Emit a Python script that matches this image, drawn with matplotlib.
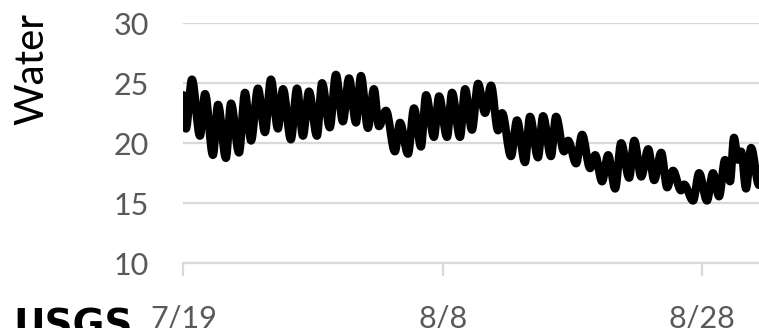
import matplotlib.pyplot as plt
from matplotlib.path import Path
from matplotlib.patches import PathPatch

# days since 7/19 of each daily low / high
days = [0.0, 0.20, 0.66, 1.28, 1.67, 2.28, 2.67, 3.28, 3.67, 4.29,
        4.75, 5.22, 5.75, 6.29, 6.75, 7.29, 7.68, 8.29, 8.76, 9.22,
        9.68, 10.30, 10.69, 11.29, 11.76, 12.30, 12.77, 13.31, 13.69, 14.23,
        14.69, 15.08, 15.62, 16.31, 16.70, 17.32, 17.78, 18.32, 18.71, 19.32,
        19.71, 20.33, 20.71, 21.33, 21.72, 22.25, 22.72, 23.26, 23.72, 24.26,
        24.57, 25.26, 25.72, 26.34, 26.72, 27.34, 27.73, 28.34, 28.73, 29.35,
        29.66, 30.28, 30.74, 31.36, 31.75, 32.28, 32.75, 33.29, 33.75, 34.37,
        34.76, 35.30, 35.84, 36.30, 36.84, 37.30, 37.75, 38.37, 38.60, 39.30,
        39.76, 40.37, 40.83, 41.30, 41.76, 42.15, 42.45, 42.76, 43.00, 43.38,
        43.77, 44.38]
temps = [24.0, 21.2, 25.3, 20.6, 24.1, 19.0, 23.2, 18.75, 23.3, 19.2,
         24.2, 20.2, 24.55, 20.9, 25.3, 21.2, 24.5, 20.3, 24.55, 20.6,
         24.3, 20.6, 25.0, 21.3, 25.7, 21.8, 25.4, 21.7, 25.6, 21.25,
         24.5, 21.4, 22.7, 19.3, 21.7, 19.1, 22.9, 19.7, 24.0, 20.5,
         23.9, 20.5, 24.2, 20.5, 24.5, 21.1, 24.95, 22.5, 24.8, 21.05,
         22.5, 18.9, 21.9, 18.4, 22.2, 18.8, 22.25, 18.9, 22.2, 19.3,
         20.2, 18.3, 20.7, 17.9, 19.0, 16.8, 19.0, 16.2, 20.0, 17.1,
         20.2, 17.2, 19.5, 16.9, 19.2, 16.3, 17.7, 16.05, 16.55, 15.2,
         17.5, 15.2, 17.5, 15.55, 18.6, 16.8, 20.45, 18.6, 19.3, 16.2,
         19.6, 16.5]

tick_days = [0, 20, 40]
tick_labels = ['7/19', '8/8', '8/28']
y_ticks = [10, 15, 20, 25, 30]

fig = plt.figure(figsize=(7.59, 3.28), dpi=100)
ax = fig.add_axes([0.2416, 0.198, 0.7584, 0.7317])

# smooth curve through the extrema (flat tangent at each low/high)
k = 0.364
verts = [(days[0], temps[0])]
codes = [Path.MOVETO]
for i in range(1, len(days)):
    x0, y0 = days[i - 1], temps[i - 1]
    x1, y1 = days[i], temps[i]
    dx = x1 - x0
    verts += [(x0 + k * dx, y0), (x1 - k * dx, y1), (x1, y1)]
    codes += [Path.CURVE4, Path.CURVE4, Path.CURVE4]
patch = PathPatch(Path(verts, codes), facecolor='none', edgecolor='black',
                  lw=5.8, capstyle='round', joinstyle='round', zorder=3)
ax.add_patch(patch)

ax.set_xlim(0, 44.38)
ax.set_ylim(10, 30)
ax.set_yticks(y_ticks)
ax.set_xticks(tick_days)
ax.set_xticklabels(tick_labels)
ax.grid(axis='y', color='#d9d9d9', lw=1.6, zorder=0)
ax.set_axisbelow(True)
for s in ['top', 'right', 'left']:
    ax.spines[s].set_visible(False)
ax.spines['bottom'].set_color('#d9d9d9')
ax.spines['bottom'].set_linewidth(1.6)
ax.tick_params(axis='y', length=0, pad=25, labelsize=22, labelcolor='#595959')
ax.tick_params(axis='x', length=9, width=1.6, color='#d9d9d9', pad=21,
               labelsize=22, labelcolor='#595959')
for lab in ax.get_xticklabels() + ax.get_yticklabels():
    lab.set_family('Lato')

fig.text(0.042, 0.62, 'Water', rotation=90, fontsize=29, family='Lato',
         ha='center', va='bottom', color='black')
fig.text(0.017, 0.064, 'USGS', fontsize=28, fontweight='bold',
         family='DejaVu Sans', ha='left', va='top', color='black')

plt.savefig('out.png', dpi=100)
